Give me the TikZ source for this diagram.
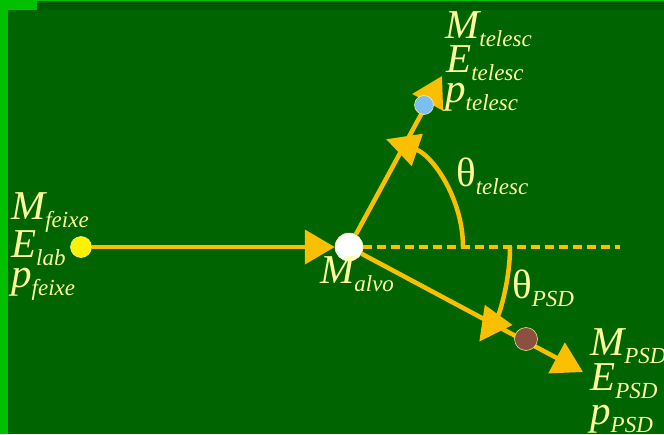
\documentclass[tikz,border=0pt]{standalone}
\usepackage{fontspec}
\setmainfont{Liberation Serif}
\usetikzlibrary{arrows.meta}

\definecolor{bggreen}{RGB}{0,100,0}
\definecolor{edgegreen}{RGB}{0,192,0}
\definecolor{bandgreen}{RGB}{0,88,0}
\definecolor{rayyellow}{RGB}{250,192,0}
\definecolor{labelyellow}{RGB}{255,255,153}
\definecolor{dotblue}{RGB}{125,190,240}
\definecolor{dotbrown}{RGB}{140,80,64}

\newcommand{\subtxt}[1]{\raisebox{-8pt}{\fontsize{23}{23}\selectfont #1}}

\begin{document}
\begin{tikzpicture}[
    x=1pt, y=1pt,
    every node/.style={inner sep=0pt},
    lbl/.style={anchor=base west, text=labelyellow, font=\fontsize{41}{41}\selectfont\itshape},
    ray/.style={line width=4.5pt, draw=rayyellow, -{Triangle[length=30pt,width=34pt]}},
    anglearc/.style={line width=4.5pt, draw=rayyellow, -{Triangle[length=33pt,width=33pt]}},
    dashline/.style={line width=4.5pt, draw=rayyellow, dash pattern=on 9pt off 5pt},
    dot/.style={circle, draw=labelyellow, line width=0.5pt}
]
\useasboundingbox (0,0) rectangle (664,-434);

% background
\fill[edgegreen] (0,0) rectangle (664,-434);
\fill[bandgreen] (37,-1) rectangle (664,-10);
\fill[bggreen] (8,-10) rectangle (664,-434);

\node[dot, fill=yellow, minimum size=21pt] (feixe) at (81,-247) {};
\node[dot, fill=white, minimum size=28pt] (alvo) at (349,-247) {};
\coordinate (telesctip) at (442,-76);
\coordinate (psdtip) at (583,-372);
\coordinate (dashend) at (620,-247);

\draw[dashline] (alvo) -- (dashend);
\draw[ray] (feixe) -- (alvo);
\draw[ray] (alvo) -- (telesctip);
\draw[ray] (alvo) -- (psdtip);

% angles
\draw[anglearc] ([xshift=114pt]alvo.center) arc[start angle=0, end angle=71, radius=114];
\draw[anglearc] ([xshift=161pt]alvo.center) arc[start angle=0, end angle=-36, radius=161];

\node[dot, fill=dotblue, minimum size=19pt] (telesc) at (424,-105) {};
\node[dot, fill=dotbrown, minimum size=23pt] (psd) at (526,-339) {};

% labels
\node[lbl] (mfeixe) at (11,-219) {M\subtxt{feixe}};
\node[lbl] (elab) at (11,-257) {E\subtxt{lab}};
\node[lbl] (pfeixe) at (11,-287) {p\subtxt{feixe}};

\node[lbl] (mtelesc) at (445,-38) {M\subtxt{telesc}};
\node[lbl] (etelesc) at (446,-72) {E\subtxt{telesc}};
\node[lbl] (ptelesc) at (445,-102) {p\subtxt{telesc}};

\node[lbl] (malvo) at (320,-283) {M\subtxt{alvo}};
\node[lbl] (thtelesc) at (456,-186) {{\upshape θ}\subtxt{telesc}};
\node[lbl] (thpsd) at (512,-298) {{\upshape θ}\subtxt{PSD}};

\node[lbl] (mpsd) at (590,-355) {M\subtxt{PSD}};
\node[lbl] (epsd) at (590,-390) {E\subtxt{PSD}};
\node[lbl] (ppsd) at (590,-424) {p\subtxt{PSD}};

\end{tikzpicture}
\end{document}
